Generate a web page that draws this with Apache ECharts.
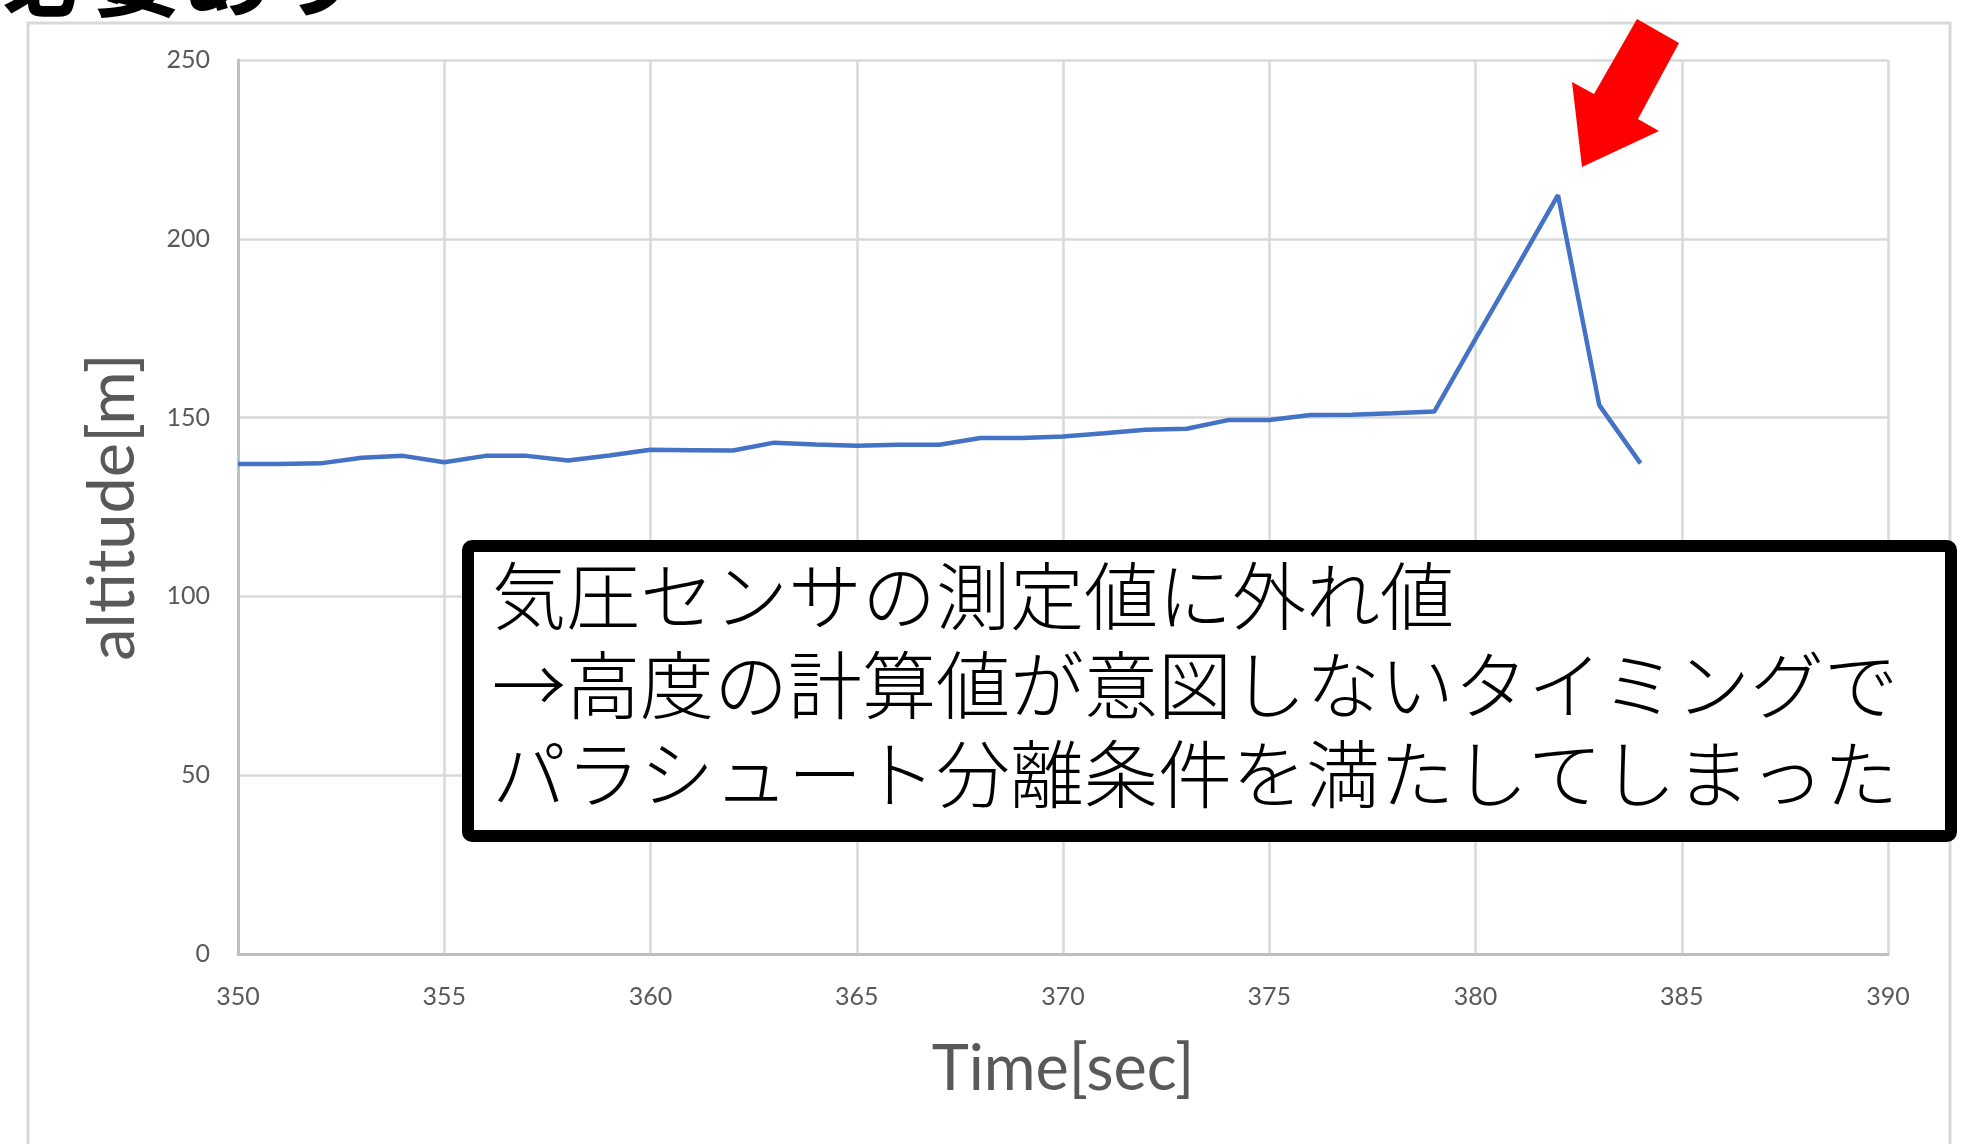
<!DOCTYPE html>
<html>
<head>
<meta charset="utf-8">
<script src="https://cdn.jsdelivr.net/npm/echarts@6/dist/echarts.min.js"></script>
<style>
  html, body { margin: 0; padding: 0; background: #fff; }
  #chart { width: 1977px; height: 1144px; }
</style>
</head>
<body>
<div id="chart"></div>
<script>
// 時刻[sec]
var times = [350, 351, 352, 353, 354, 355, 356, 357, 358, 359,
             360, 361, 362, 363, 364, 365, 366, 367, 368, 369,
             370, 371, 372, 373, 374, 375, 376, 377, 378, 379,
             380, 381, 382, 383, 384];
// 高度[m]
var altitude = [137, 137, 137.2, 138.8, 139.3, 137.5, 139.3, 139.3, 138, 139.4,
                141, 140.9, 140.8, 143, 142.5, 142.1, 142.4, 142.4, 144.3, 144.3,
                144.7, 145.6, 146.6, 146.9, 149.3, 149.3, 150.7, 150.8, 151.2, 151.7,
                172, 192, 212.2, 153.5, 137.2];
var xTicks = [350, 390, 5];   // min, max, interval
var yTicks = [0, 250, 50];
var noteLines = [
  '気圧センサの測定値に外れ値',
  '→高度の計算値が意図しないタイミングで',
  'パラシュート分離条件を満たしてしまった'
];
var headText = '必要あり';

var latin = 'Lato, "Noto Sans", sans-serif';
var jp = '"Noto Sans CJK JP", sans-serif';

var seriesData = times.map(function (t, i) { return [t, altitude[i]]; });

var chart = echarts.init(document.getElementById('chart'), null, { renderer: 'canvas' });

var noteTexts = noteLines.map(function (s, i) {
  return {
    type: 'text',
    left: 492,
    top: 597 + i * 89 - 38,
    z: 20,
    style: {
      text: s,
      font: '300 74px ' + jp,
      fill: '#000'
    }
  };
});

var option = {
  backgroundColor: '#fff',
  animation: false,
  grid: { left: 238, right: 89, top: 60, bottom: 190 },
  xAxis: {
    type: 'value',
    min: xTicks[0],
    max: xTicks[1],
    interval: xTicks[2],
    name: 'Time[sec]',
    nameLocation: 'middle',
    nameGap: 84,
    nameTextStyle: { color: '#595959', fontSize: 63, fontFamily: latin },
    axisLine: { show: true, lineStyle: { color: '#bfbfbf', width: 3 } },
    axisTick: { show: false },
    axisLabel: { color: '#595959', fontSize: 25, fontFamily: latin, margin: 30 },
    splitLine: { show: true, lineStyle: { color: '#d9d9d9', width: 2.5 } }
  },
  yAxis: {
    type: 'value',
    min: yTicks[0],
    max: yTicks[1],
    interval: yTicks[2],
    name: 'altitude[m]',
    nameLocation: 'middle',
    nameGap: 92,
    nameRotate: 90,
    nameTextStyle: { color: '#595959', fontSize: 65, fontFamily: latin },
    axisLine: { show: true, lineStyle: { color: '#bfbfbf', width: 3 } },
    axisTick: { show: false },
    axisLabel: { color: '#595959', fontSize: 25, fontFamily: latin, margin: 28 },
    splitLine: { show: true, lineStyle: { color: '#d9d9d9', width: 2.5 } }
  },
  series: [{
    type: 'line',
    data: seriesData,
    showSymbol: false,
    symbol: 'none',
    lineStyle: { color: '#4472c4', width: 4.5 },
    z: 5
  }],
  graphic: [
    // グラフ外枠
    {
      type: 'rect',
      shape: { x: 28, y: 23, width: 1922, height: 1200 },
      style: { fill: 'none', stroke: '#d9d9d9', lineWidth: 3 },
      z: 1
    },
    // 上部の見切れた見出し
    {
      type: 'text',
      left: 2,
      top: -70,
      style: { text: headText, font: 'bold 90px ' + jp, fill: '#000' },
      z: 20
    },
    // 注釈ボックス
    {
      type: 'rect',
      shape: { x: 468, y: 546, width: 1483, height: 290, r: 4 },
      style: { fill: '#fff', stroke: '#000', lineWidth: 12 },
      z: 15
    },
    // 赤矢印
    {
      type: 'polygon',
      shape: {
        points: [[1637, 19], [1679, 43], [1638, 119], [1659, 131],
                 [1582, 167], [1572, 82], [1594, 94]]
      },
      style: { fill: '#ff0000' },
      z: 20
    }
  ].concat(noteTexts)
};

chart.setOption(option);
</script>
</body>
</html>
